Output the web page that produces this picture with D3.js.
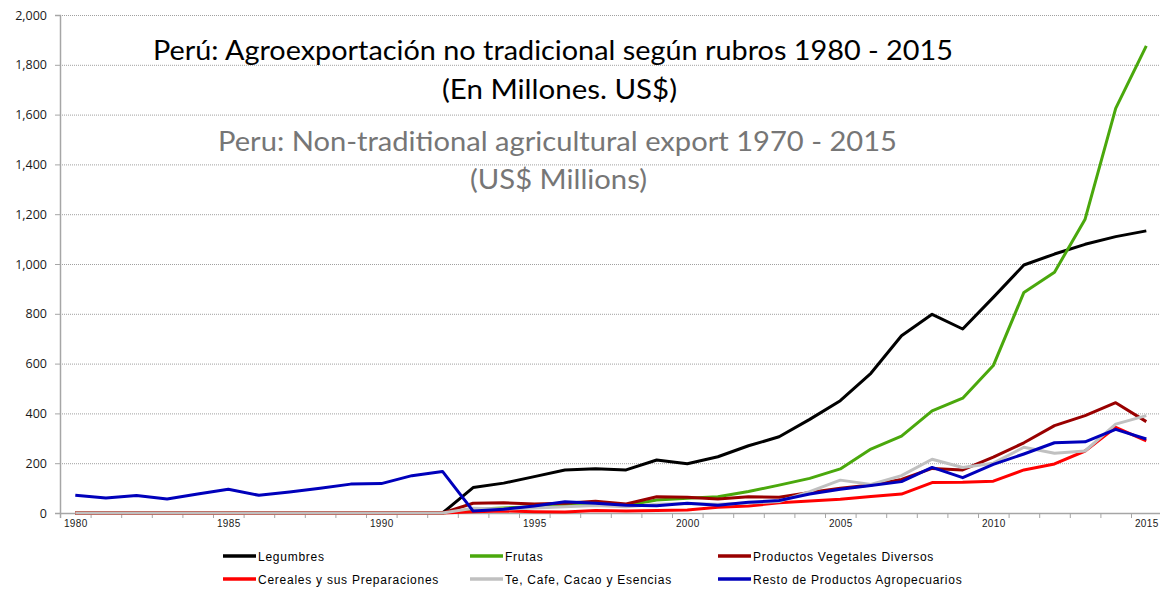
<!DOCTYPE html>
<html>
<head>
<meta charset="utf-8">
<script src="https://cdn.jsdelivr.net/npm/d3@7"></script>
<style>
html, body { margin: 0; padding: 0; background: #fff; }
svg { display: block; }
</style>
</head>
<body>
<svg id="chart" width="1160" height="589"></svg>
<script>
const years = [1980,1981,1982,1983,1984,1985,1986,1987,1988,1989,1990,1991,1992,1993,1994,1995,1996,1997,1998,1999,2000,2001,2002,2003,2004,2005,2006,2007,2008,2009,2010,2011,2012,2013,2014,2015];
const legumbres = [0,0,0,0,0,0,0,0,0,0,0,0,0, 102,120,146,173,178,173,213,198,226,270,306,376,451,561,712,798,739,866,996,1040,1079,1110,1133];
const frutas    = [0,0,0,0,0,0,0,0,0,0,0,0,0, 15,20,25,30,33,30,52,59,65,86,112,139,177,257,309,410,461,592,886,967,1180,1625,1876];
const productos = [0,0,0,0,0,0,0,0,0,0,0,0,0, 39,41,36,39,47,36,65,63,56,65,63,82,99,112,135,179,173,224,282,351,391,443,367];
const cereales  = [0,0,0,0,0,0,0,0,0,0,0,0,0, 5,8,5,4,10,8,10,12,23,28,41,48,55,66,76,122,123,128,173,197,249,344,290];
const te        = [0,0,0,0,0,0,0,0,0,0,0,0,0, 19,16,20,25,30,25,35,38,35,40,46,86,132,115,150,216,183,200,264,240,249,357,391];
const resto     = [71,60,70,56,76,95,71,84,99,116,118,150,167, 8,15,28,45,39,31,29,39,31,43,50,76,95,110,126,183,142,195,237,282,286,336,297];

const seriesNames = ["Legumbres","Frutas","Productos Vegetales Diversos","Cereales y sus Preparaciones","Te, Cafe, Cacao y Esencias","Resto de Productos Agropecuarios"];
const seriesValues = [legumbres, frutas, productos, cereales, te, resto];
const seriesColors = ["#000000","#4aa80c","#990000","#ff0000","#c0c0c0","#0000bb"];

const yTicks = [0,200,400,600,800,1000,1200,1400,1600,1800,2000];
const xLabelYears = [1980,1985,1990,1995,2000,2005,2010,2015];

const titleLines = [
  {text: "Perú: Agroexportación no tradicional según rubros 1980 - 2015", color: "#000000"},
  {text: "(En Millones. US$)", color: "#000000"},
  {text: "Peru: Non-traditional agricultural export 1970 - 2015", color: "#767676"},
  {text: "(US$ Millions)", color: "#767676"}
];

const svg = d3.select("#chart");
const plot = {left: 60, right: 1161.6, top: 15, bottom: 513};

const x = d3.scaleLinear().domain([1979.5, 2015.5]).range([plot.left, plot.right]);
const y = d3.scaleLinear().domain([0, 2000]).range([plot.bottom, plot.top]);

// gridlines
svg.append("g")
  .selectAll("line")
  .data(yTicks.filter(d => d > 0))
  .join("line")
  .attr("x1", plot.left).attr("x2", 1160)
  .attr("y1", d => y(d) + 0.5).attr("y2", d => y(d) + 0.5)
  .attr("stroke", "#a0a0a0")
  .attr("stroke-width", 1)
  .attr("stroke-dasharray", "1,1");

// y axis
const yAxis = svg.append("g")
  .attr("transform", `translate(${plot.left},0)`)
  .call(d3.axisLeft(y).tickValues(yTicks).tickSize(5).tickPadding(8).tickFormat(d3.format(",")));
yAxis.select(".domain").attr("stroke", "#a6a6a6").attr("stroke-width", 1.5);
yAxis.selectAll(".tick line").attr("stroke", "#a6a6a6");
yAxis.selectAll(".tick text")
  .attr("font-family", "'Open Sans', 'Noto Sans', sans-serif")
  .attr("font-size", "12.5px")
  .attr("fill", "#1a1a1a");

// x axis: tick marks at category boundaries
const boundaries = years.map(d => d - 0.5).concat([2015.5]);
const xAxisTicks = svg.append("g")
  .attr("transform", `translate(0,${plot.bottom})`)
  .call(d3.axisBottom(x).tickValues(boundaries).tickSize(5).tickFormat(""));
xAxisTicks.select(".domain").attr("stroke", "#a6a6a6").attr("stroke-width", 1.5);
xAxisTicks.selectAll(".tick line").attr("stroke", "#a6a6a6");

const xLabels = svg.append("g")
  .attr("transform", `translate(0,${plot.bottom})`)
  .call(d3.axisBottom(x).tickValues(xLabelYears).tickSize(0).tickPadding(7).tickFormat(d3.format("d")));
xLabels.select(".domain").remove();
xLabels.selectAll(".tick text")
  .attr("font-family", "'Liberation Sans', Arial, sans-serif")
  .attr("font-size", "10px")
  .attr("letter-spacing", "0.4px")
  .attr("fill", "#1a1a1a");

// lines
const line = d3.line().x((d, i) => x(years[i])).y(d => y(d));
svg.append("g")
  .selectAll("path")
  .data(seriesValues)
  .join("path")
  .attr("d", d => line(d))
  .attr("fill", "none")
  .attr("stroke", (d, i) => seriesColors[i])
  .attr("stroke-width", 3)
  .attr("stroke-linejoin", "round");

// titles
const titleY = [60, 99, 151, 189];
const titleX = [153, 442, 218, 470];
const titleW = [800, 235, 679, 177];
svg.append("g")
  .selectAll("text")
  .data(titleLines)
  .join("text")
  .attr("x", (d, i) => titleX[i])
  .attr("y", (d, i) => titleY[i])
  .attr("textLength", (d, i) => titleW[i])
  .attr("lengthAdjust", "spacingAndGlyphs")
  .attr("font-family", "Lato, 'Open Sans', sans-serif")
  .attr("font-size", "27px")
  .attr("fill", d => d.color)
  .text(d => d.text);

// legend
const legCols = [223, 470, 718];
const legRows = [556, 579];
const leg = svg.append("g")
  .selectAll("g")
  .data(seriesNames)
  .join("g")
  .attr("transform", (d, i) => `translate(${legCols[i % 3]},${legRows[Math.floor(i / 3)]})`);
leg.append("line")
  .attr("x1", 0).attr("x2", 33).attr("y1", 0).attr("y2", 0)
  .attr("stroke", (d, i) => seriesColors[i])
  .attr("stroke-width", 3.5);
leg.append("text")
  .attr("x", 35).attr("y", 4.5)
  .attr("font-family", "'Liberation Sans', Arial, sans-serif")
  .attr("font-size", "12px")
  .attr("letter-spacing", "0.75px")
  .attr("fill", "#000")
  .text(d => d);
</script>
</body>
</html>
